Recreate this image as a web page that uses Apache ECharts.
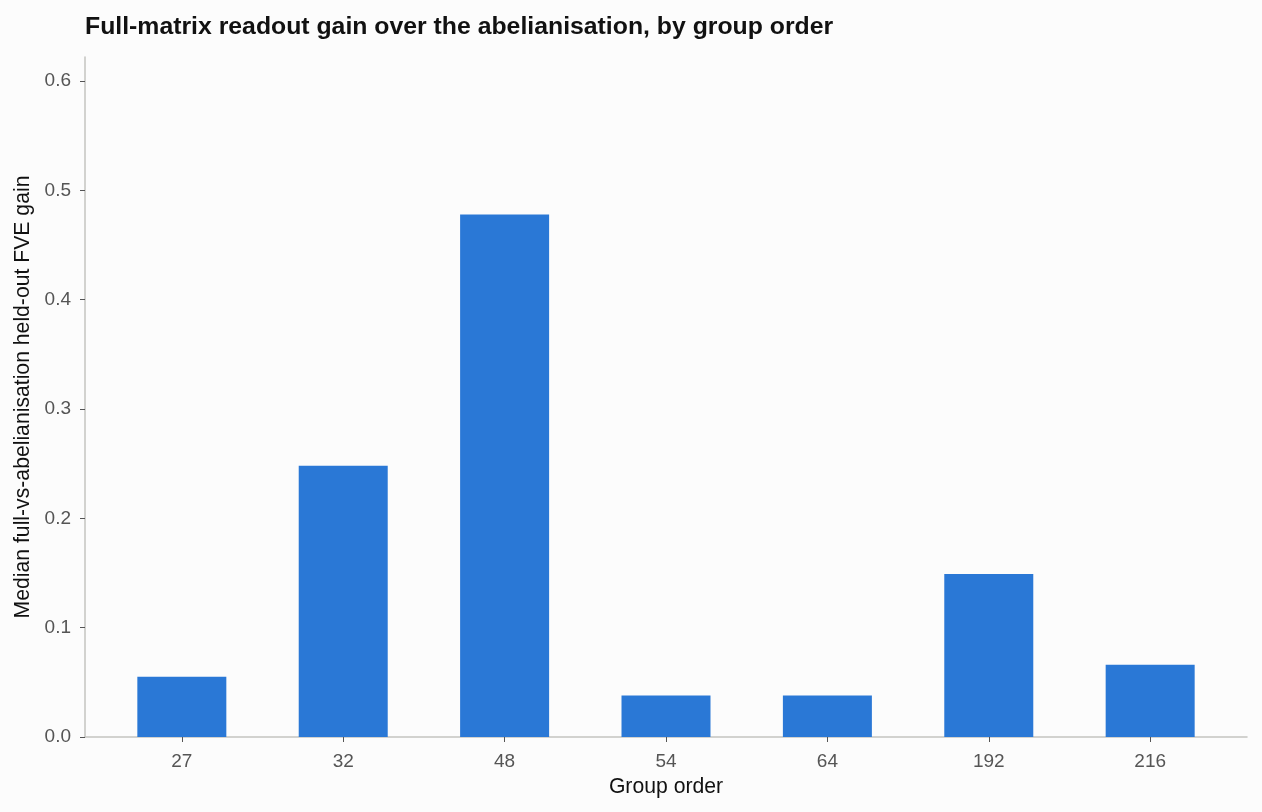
<!DOCTYPE html>
<html>
<head>
<meta charset="utf-8">
<script src="https://cdn.jsdelivr.net/npm/echarts@6/dist/echarts.min.js"></script>
<style>
  html, body { margin: 0; padding: 0; background: #fcfcfc; }
  #chart { width: 1262px; height: 812px; }
</style>
</head>
<body>
<div id="chart"></div>
<script>
var categories = ['27', '32', '48', '54', '64', '192', '216'];
var gains = [0.055, 0.248, 0.478, 0.038, 0.038, 0.149, 0.066];
var yTicks = [0, 0.1, 0.2, 0.3, 0.4, 0.5, 0.6];

(function(){
    var mychart = echarts.init(document.getElementById('chart'));
    var idx = categories.map(function(c, i){ return i; });
    var option = {
        backgroundColor: '#fcfcfc',
        textStyle: { fontFamily: 'Liberation Sans, Arial, sans-serif' },
        title: {
            text: 'Full-matrix readout gain over the abelianisation, by group order',
            left: 85,
            top: 15,
            padding: 0,
            textStyle: { fontSize: 24.8, fontWeight: 'bold', color: '#111' }
        },
        grid: { left: 85, right: 15, top: 57, bottom: 75, containLabel: false },
        xAxis: {
            type: 'value',
            min: -0.6,
            max: 6.6,
            name: 'Group order',
            nameLocation: 'middle',
            nameGap: 40,
            nameTextStyle: { fontSize: 21.2, color: '#111' },
            splitLine: { show: false },
            axisLine: { show: true, onZero: false, lineStyle: { color: '#c4c4c0', width: 1.5 } },
            axisTick: { show: true, customValues: idx, length: 5, lineStyle: { color: '#555' } },
            axisLabel: {
                customValues: idx,
                fontSize: 19,
                color: '#555',
                margin: 15,
                formatter: function(v){ return categories[Math.round(v)]; }
            }
        },
        yAxis: {
            type: 'value',
            min: 0,
            max: 0.622,
            name: 'Median full-vs-abelianisation held-out FVE gain',
            nameLocation: 'middle',
            nameGap: 48,
            nameTextStyle: { fontSize: 21.2, color: '#111' },
            splitLine: { show: false },
            axisLine: { show: true, onZero: false, lineStyle: { color: '#c4c4c0', width: 1.5 } },
            axisTick: { show: true, customValues: yTicks, length: 5, lineStyle: { color: '#555' } },
            axisLabel: {
                customValues: yTicks,
                fontSize: 19,
                color: '#555',
                margin: 14,
                formatter: function(v){ return v.toFixed(1); }
            }
        },
        series: [{
            type: 'bar',
            barWidth: 89,
            itemStyle: { color: '#2a78d6' },
            data: gains.map(function(g, i){ return [i, g]; })
        }]
    };
    mychart.setOption(option);
})();
</script>
</body>
</html>
